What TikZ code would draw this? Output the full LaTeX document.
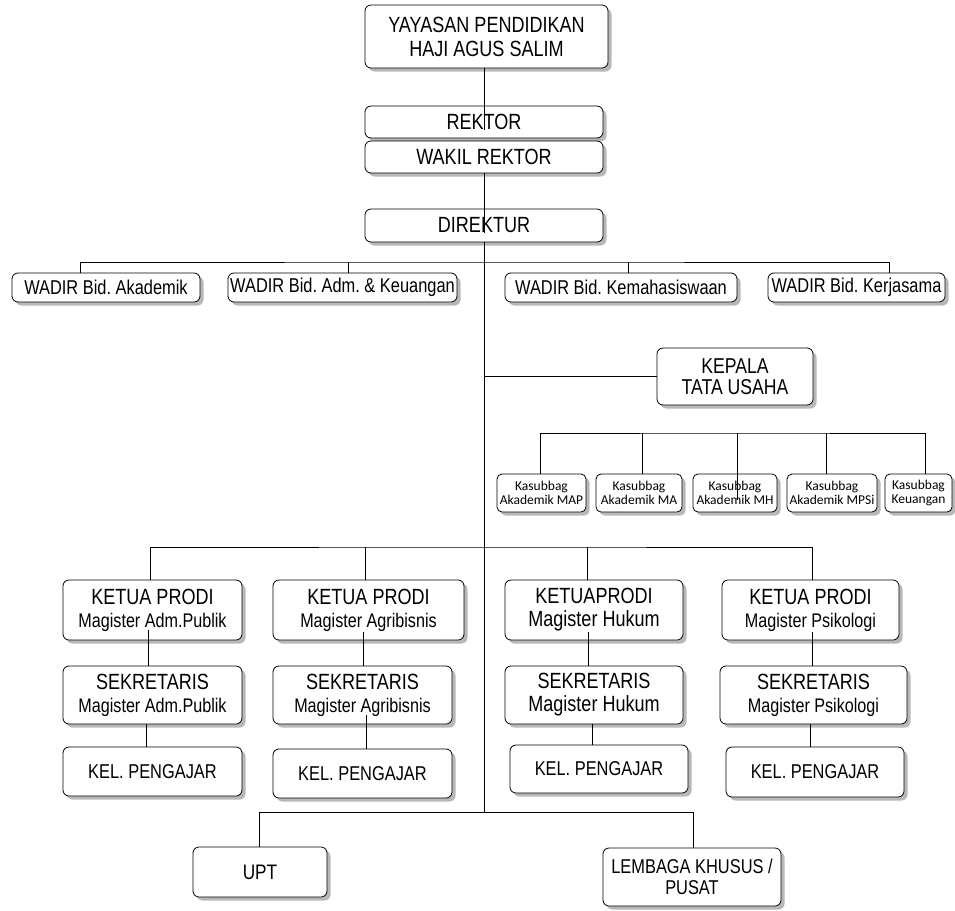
\documentclass[tikz,border=0pt]{standalone}
\usepackage{fontspec}
\setmainfont{Liberation Sans}[FakeStretch=0.82]
\newfontfamily\kecilfont{Carlito}
\usetikzlibrary{positioning,shadows}
\tikzset{
    kotak/.style={
           rectangle,
           rounded corners=6pt,
           draw=black, thick,
           fill=white,
           drop shadow={shadow xshift=3.5pt, shadow yshift=-3.5pt, fill=black!55},
           align=center,
           inner sep=1pt,
           font=\fontsize{22}{24}\selectfont},
    kotakKecil/.style={
           kotak,
           rounded corners=5pt,
           minimum height=38pt,
           font=\kecilfont\fontsize{13.5}{13.5}\selectfont},
    garis/.style={
           line width=0.9pt}
}
\newcommand{\sub}[1]{{\fontsize{19.7}{23}\selectfont #1}}
\frenchspacing

\begin{document}
\begin{tikzpicture}[x=1pt,y=-1pt]
	\useasboundingbox[fill=white] (0,0) rectangle (955,910);
	% pimpinan
	\node[kotak, minimum width=243pt, minimum height=63pt] (yayasan) at (486.5,36.5) {YAYASAN PENDIDIKAN\\HAJI AGUS SALIM};
	\node[kotak, minimum width=238pt, minimum height=32pt] (rektor) at (484,122) {REKTOR};
	\node[kotak, minimum width=238pt, minimum height=32pt] (wakil) at (484,157) {WAKIL REKTOR};
	\node[kotak, minimum width=238pt, minimum height=33pt] (direktur) at (484,225.5) {DIREKTUR};
	% wakil direktur
	\node[kotak, font=\fontsize{20}{24}\selectfont, minimum width=188pt, minimum height=29pt] (wadirA) at (106,287.5) {WADIR Bid. Akademik};
	\node[kotak, font=\fontsize{20}{24}\selectfont, minimum width=229pt, minimum height=29pt] (wadirB) at (342.5,287.5) {WADIR Bid. Adm. \& Keuangan};
	\node[kotak, font=\fontsize{20}{24}\selectfont, minimum width=232pt, minimum height=29pt] (wadirC) at (621,287.5) {WADIR Bid. Kemahasiswaan};
	\node[kotak, font=\fontsize{20}{24}\selectfont, minimum width=177pt, minimum height=29pt] (wadirD) at (856.5,287.5) {WADIR Bid. Kerjasama};
	% tata usaha
	\node[kotak, font=\fontsize{21.5}{21}\selectfont, minimum width=156pt, minimum height=57pt] (kepala) at (735,376.5) {KEPALA\\TATA USAHA};
	\node[kotakKecil, minimum width=89pt] (ksA) at (541.5,493) {Kasubbag\\Akademik MAP};
	\node[kotakKecil, minimum width=86pt] (ksB) at (639,493) {Kasubbag\\Akademik MA};
	\node[kotakKecil, minimum width=84pt] (ksC) at (735,493) {Kasubbag\\Akademik MH};
	\node[kotakKecil, minimum width=90pt] (ksD) at (832,493) {Kasubbag\\Akademik MPSi};
	\node[kotakKecil, minimum width=67pt] (ksE) at (918.5,493) {Kasubbag\\Keuangan};
	% program studi
	\node[kotak, font=\fontsize{22}{23}\selectfont, minimum width=179pt, minimum height=60pt] (kpA) at (152.5,610) {KETUA PRODI\\\sub{Magister Adm.Publik}};
	\node[kotak, font=\fontsize{22}{23}\selectfont, minimum width=191pt, minimum height=60pt] (kpB) at (368.5,610) {KETUA PRODI\\\sub{Magister Agribisnis}};
	\node[kotak, font=\fontsize{22}{23}\selectfont, minimum width=178pt, minimum height=60pt] (kpC) at (594,610) {KETUAPRODI\\Magister Hukum};
	\node[kotak, font=\fontsize{22}{23}\selectfont, minimum width=177pt, minimum height=60pt] (kpD) at (810.5,610) {KETUA PRODI\\\sub{Magister Psikologi}};
	\node[kotak, font=\fontsize{22}{23}\selectfont, minimum width=179pt, minimum height=58pt] (sekA) at (152.5,695) {SEKRETARIS\\\sub{Magister Adm.Publik}};
	\node[kotak, font=\fontsize{22}{23}\selectfont, minimum width=179pt, minimum height=58pt] (sekB) at (362.5,695) {SEKRETARIS\\\sub{Magister Agribisnis}};
	\node[kotak, font=\fontsize{22}{23}\selectfont, minimum width=178pt, minimum height=58pt] (sekC) at (594,695) {SEKRETARIS\\Magister Hukum};
	\node[kotak, font=\fontsize{22}{23}\selectfont, minimum width=187pt, minimum height=58pt] (sekD) at (813.5,695) {SEKRETARIS\\\sub{Magister Psikologi}};
	\node[kotak, font=\fontsize{20}{24}\selectfont, minimum width=179pt, minimum height=49pt] (kelA) at (152.5,771.5) {KEL. PENGAJAR};
	\node[kotak, font=\fontsize{20}{24}\selectfont, minimum width=179pt, minimum height=49pt] (kelB) at (362.5,773.5) {KEL. PENGAJAR};
	\node[kotak, font=\fontsize{20}{24}\selectfont, minimum width=178pt, minimum height=48pt] (kelC) at (599,769) {KEL. PENGAJAR};
	\node[kotak, font=\fontsize{20}{24}\selectfont, minimum width=178pt, minimum height=50pt] (kelD) at (815,772) {KEL. PENGAJAR};
	% unit
	\node[kotak, font=\fontsize{21}{24}\selectfont, minimum width=134pt, minimum height=50pt] (upt) at (260,872) {UPT};
	\node[kotak, font=\fontsize{20}{21}\selectfont, minimum width=178pt, minimum height=58pt] (lembaga) at (692,877) {LEMBAGA KHUSUS /\\PUSAT};
	% titik cabang
	\coordinate (jWadir) at (484,262);
	\coordinate (jKas) at (737,433);
	\coordinate (jProdi) at (484,547);
	\coordinate (jBawah) at (484,812);
	\coordinate (rektorIsi) at ([yshift=-8pt]rektor.center);
	\coordinate (direkturIsi) at ([yshift=-7.5pt]direktur.center);
	\coordinate (ksIsi) at ([yshift=-7pt]ksC.center);
	% garis
	\draw[garis] ([xshift=-2.5pt]yayasan.south) coordinate (t0) -- (t0 |- rektorIsi);
	\draw[garis] (wakil.south) -- (direkturIsi);
	\draw[garis] (direktur.south) -- (jBawah);
	\draw[garis] ([xshift=-26pt]wadirA.north) |- (jWadir) -| ([xshift=32.5pt]wadirD.north);
	\draw[garis] ([xshift=5.5pt]wadirB.north) -- ([xshift=5.5pt]wadirB.north |- jWadir);
	\draw[garis] ([xshift=7pt]wadirC.north) -- ([xshift=7pt]wadirC.north |- jWadir);
	\draw[garis] (kepala.west) -- (kepala.west -| jBawah);
	\draw[garis] ([xshift=-1.5pt]ksA.north) |- (jKas) -| ([xshift=6.5pt]ksE.north);
	\draw[garis] ([xshift=3pt]ksB.north) -- ([xshift=3pt]ksB.north |- jKas);
	\draw[garis] ([xshift=-6pt]ksD.north) -- ([xshift=-6pt]ksD.north |- jKas);
	\draw[garis] (jKas) -- (jKas |- ksIsi);
	\draw[garis] ([xshift=-2.5pt]kpA.north) |- (jProdi) -| ([xshift=1.5pt]kpD.north);
	\draw[garis] ([xshift=-3.5pt]kpB.north) -- ([xshift=-3.5pt]kpB.north |- jProdi);
	\draw[garis] ([xshift=-7pt]kpC.north) -- ([xshift=-7pt]kpC.north |- jProdi);
	\draw[garis] ([xshift=-4.5pt, yshift=10pt]kpA.south) coordinate (tA) -- (tA |- sekA.north);
	\draw[garis] ([xshift=-5.5pt, yshift=8pt]kpB.south) coordinate (tB) -- (tB |- sekB.north);
	\draw[garis] ([xshift=-6pt, yshift=8pt]kpC.south) coordinate (tC) -- (tC |- sekC.north);
	\draw[garis] ([xshift=1.5pt, yshift=8pt]kpD.south) coordinate (tD) -- (tD |- sekD.north);
	\draw[garis] ([xshift=-6.5pt]sekA.south) coordinate (uA) -- (uA |- kelA.north);
	\draw[garis] ([xshift=3.5pt, yshift=9pt]sekB.south) coordinate (uB) -- (uB |- kelB.north);
	\draw[garis] ([xshift=-2pt]sekC.south) coordinate (uC) -- (uC |- kelC.north);
	\draw[garis] ([xshift=-3.5pt]sekD.south) coordinate (uD) -- (uD |- kelD.north);
	\draw[garis] ([xshift=-1pt]upt.north) |- (jBawah) -| ([xshift=1pt]lembaga.north);
\end{tikzpicture}
\end{document}
